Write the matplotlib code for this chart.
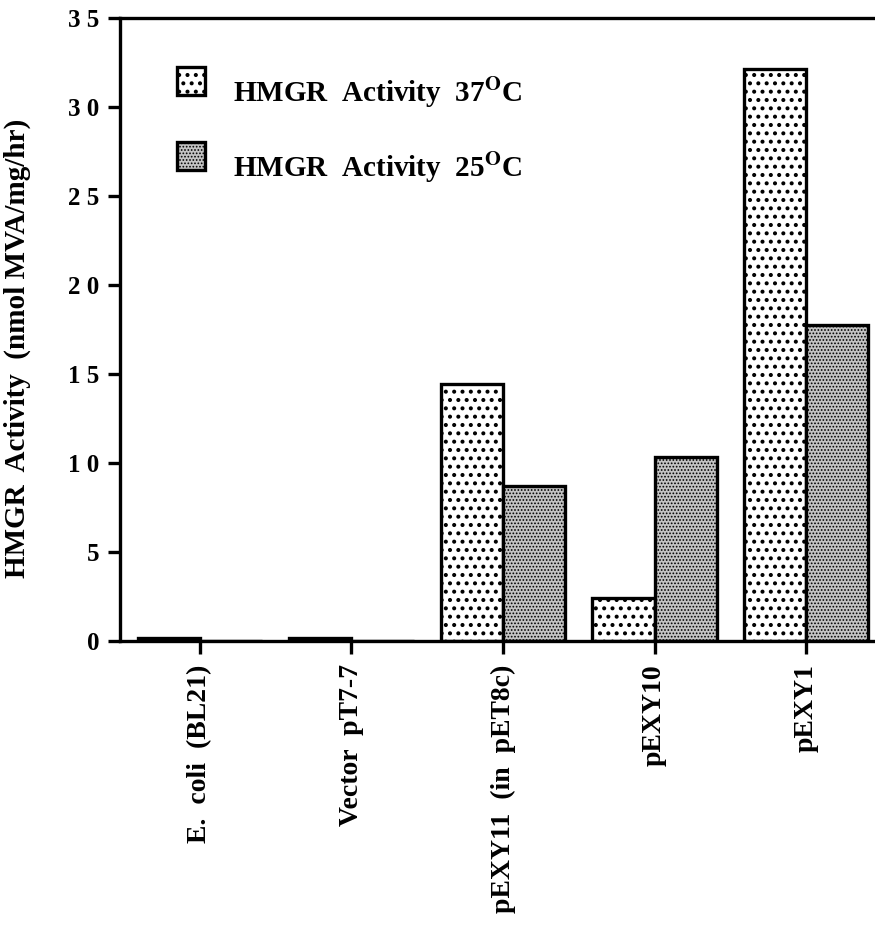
import matplotlib
matplotlib.use('Agg')
import matplotlib.pyplot as plt
from matplotlib.patches import Rectangle
import numpy as np

plt.rcParams['font.family'] = ['Liberation Serif', 'DejaVu Serif']
plt.rcParams['font.weight'] = 'bold'
plt.rcParams['mathtext.fontset'] = 'stix'

strains = ['E.  coli  (BL21)', 'Vector  pT7-7', 'pEXY11  (in  pET8c)', 'pEXY10', 'pEXY1']
act_37 = [0.15, 0.15, 14.4, 2.4, 32.1]
act_25 = [0.0, 0.0, 8.7, 10.3, 17.75]
yticks = [0, 5, 10, 15, 20, 25, 30, 35]
series = ['HMGR  Activity  37$^{\\mathbf{O}}$C', 'HMGR  Activity  25$^{\\mathbf{O}}$C']

style_37 = dict(facecolor='white', edgecolor='black', linewidth=2.4, hatch='..')
style_25 = dict(facecolor='#c4c4c4', edgecolor='black', linewidth=2.4, hatch='.....')
hatch_lw = [1.7, 0.8]


def set_hlw(patches, lw):
    for p in patches:
        if hasattr(p, 'set_hatch_linewidth'):
            p.set_hatch_linewidth(lw)


fig = plt.figure(figsize=(8.75, 9.26), dpi=100)
ax = fig.add_axes([0.137, 0.308, 0.863, 0.673])

x = np.arange(len(strains))
w = 0.41
with plt.rc_context({'hatch.linewidth': hatch_lw[0]}):
    b37 = ax.bar(x - w / 2, act_37, w, **style_37)
set_hlw(b37, hatch_lw[0])
with plt.rc_context({'hatch.linewidth': hatch_lw[1]}):
    b25 = ax.bar(x + w / 2, act_25, w, **style_25)
set_hlw(b25, hatch_lw[1])

ax.set_xlim(-0.528, 4.455)
ax.set_ylim(0, 35)
ax.set_xticks(x)
ax.set_xticklabels(strains, rotation=90, fontsize=20, fontweight='bold')
ax.set_yticks(yticks)
ax.set_yticklabels([' '.join(str(t)) for t in yticks], fontsize=18, fontweight='bold')
ax.tick_params(axis='both', direction='out', length=9, width=2.4, pad=6)
ax.tick_params(axis='x', pad=8)

for s in ['left', 'bottom', 'top']:
    ax.spines[s].set_linewidth(2.4)
ax.spines['right'].set_visible(False)

ax.set_ylabel('HMGR  Activity  (nmol MVA/mg/hr)', fontsize=21, fontweight='bold')
ax.yaxis.set_label_coords(-0.118, 0.47)

# legend: boxes and labels placed in axes coordinates
for i, (lab, st) in enumerate(zip(series, [style_37, style_25])):
    yb = 0.876 - i * 0.12
    with plt.rc_context({'hatch.linewidth': hatch_lw[i]}):
        box = Rectangle((0.0755, yb), 0.037, 0.045, transform=ax.transAxes,
                        clip_on=False, **st)
    set_hlw([box], hatch_lw[i])
    ax.add_patch(box)
    ax.text(0.150, yb + 0.004, lab, transform=ax.transAxes, fontsize=21,
            fontweight='bold', va='center', ha='left')

fig.savefig('out.png', dpi=100)
